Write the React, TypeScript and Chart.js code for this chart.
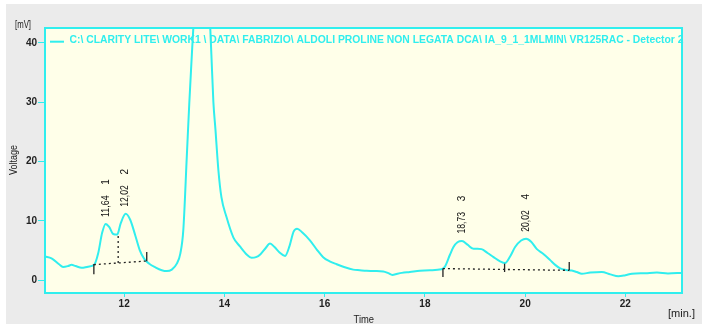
import React, { useEffect, useRef } from "react";
import { Chart, registerables } from "chart.js";
Chart.register(...registerables);

// Chromatogram trace (time in min, voltage in mV)
const times = [
  10.42, 10.55, 10.7, 10.78, 10.88, 10.95, 11.03, 11.15, 11.28, 11.4,
  11.48, 11.56, 11.63, 11.7, 11.78, 11.86, 11.93, 12.03, 12.12, 12.22,
  12.31, 12.4, 12.5, 12.62, 12.75, 12.85, 12.95, 13.05, 13.12, 13.18,
  13.25, 13.3, 13.35, 13.4, 13.55, 13.7, 13.74, 13.78, 13.82, 13.88,
  13.94, 14.04, 14.18, 14.31, 14.45, 14.54, 14.63, 14.72, 14.82, 14.91,
  15.0, 15.1, 15.21, 15.3, 15.38, 15.45, 15.55, 15.71, 15.85, 15.97,
  16.1, 16.24, 16.4, 16.57, 16.7, 16.84, 17.0, 17.17, 17.27, 17.35,
  17.45, 17.54, 17.7, 17.9, 18.1, 18.33, 18.4, 18.5, 18.57, 18.65,
  18.74, 18.85, 18.97, 19.05, 19.13, 19.25, 19.37, 19.5, 19.6, 19.7,
  19.8, 19.92, 20.02, 20.12, 20.23, 20.37, 20.5, 20.6, 20.7, 20.82,
  20.93, 21.03, 21.13, 21.3, 21.53, 21.7, 21.86, 22.0, 22.13, 22.4,
  22.63, 22.85, 23.13,
];
const voltages = [
  4.0, 3.7, 2.7, 2.25, 2.4, 2.6, 2.4, 2.1, 2.3, 2.6,
  4.5, 8.0, 9.5, 9.0, 7.8, 7.7, 9.6, 11.2, 10.2, 7.6,
  5.1, 3.6, 2.8, 2.2, 1.7, 1.55, 1.8, 2.8, 4.5, 8.5,
  21.0, 30.0, 38.0, 46.0, 80.0, 46.0, 38.0, 30.0, 25.5, 18.5,
  14.0, 10.7, 7.2, 5.7, 4.3, 3.8, 3.9, 4.4, 5.4, 6.2,
  5.6, 4.7, 4.1, 5.8, 8.2, 8.7, 8.1, 6.7, 5.1, 3.9,
  3.2, 2.7, 2.2, 1.8, 1.7, 1.6, 1.55, 1.5, 1.2, 0.9,
  1.1, 1.25, 1.4, 1.6, 1.7, 1.85, 2.3, 4.3, 5.6, 6.4,
  6.6, 6.0, 5.3, 5.3, 5.25, 4.6, 3.9, 3.2, 2.9, 4.0,
  5.6, 6.7, 7.0, 6.5, 5.3, 4.4, 3.4, 2.6, 2.0, 1.75,
  1.65, 1.4, 1.1, 1.3, 1.4, 1.0, 0.67, 0.85, 1.1, 1.2,
  1.3, 1.15, 1.25,
];

// Integration marks
const peakTimes = [11.64, 12.02, 18.73, 20.02];
const peakApex = [9.5, 11.2, 6.7, 7.0];
const peakLabels = ["11,64", "12,02", "18,73", "20,02"];
const peakNumbers = ["1", "2", "3", "4"];
const baseline1T = [11.395, 12.45];
const baseline1V = [2.64, 3.25];
const dropT = [11.88, 11.88];
const dropV = [2.92, 7.7];
const baseline2T = [18.36, 20.88];
const baseline2V = [1.97, 1.68];
const markerTimes = [11.395, 12.45, 18.36, 19.59, 20.88];
const markerTops = [2.75, 4.75, 1.97, 2.8, 3.1];
const markerBottoms = [1.0, 3.2, 0.56, 1.4, 1.68];

const xTicks = [12, 14, 16, 18, 20, 22];
const yTicks = [0, 10, 20, 30, 40];
const xMin = 10.42;
const xMax = 23.13;
const yMin = -2.14;
const yMax = 42.5;

const legendText =
  "C:\\ CLARITY LITE\\ WORK1 \\ DATA\\ FABRIZIO\\ ALDOLI PROLINE NON LEGATA DCA\\ IA_9_1_1MLMIN\\ VR125RAC - Detector 2";

const CYAN = "#30EEEE";
const FONT = "Liberation Sans";

function fitText(ctx: CanvasRenderingContext2D, text: string, x: number, y: number, target: number) {
  const w = ctx.measureText(text).width;
  ctx.save();
  ctx.translate(x, y);
  ctx.scale(target / w, 1);
  ctx.fillText(text, 0, 0);
  ctx.restore();
}

const zip = (a: number[], b: number[]) => a.map((x, i) => ({ x, y: b[i] }));

export default function App() {
  const ref = useRef<HTMLCanvasElement | null>(null);
  useEffect(() => {
    if (!ref.current) return;
    const decor = {
      id: "decor",
      beforeDraw(chart: any) {
        const { ctx, chartArea: a, width, height } = chart;
        ctx.save();
        ctx.fillStyle = "#ffffff";
        ctx.fillRect(0, 0, width, height);
        ctx.fillStyle = "#EBEBEB";
        ctx.fillRect(6, 4, width - 6, 320);
        ctx.fillStyle = "#FFFFE9";
        ctx.fillRect(a.left, a.top, a.right - a.left, a.bottom - a.top);
        ctx.restore();
      },
      afterDraw(chart: any) {
        const { ctx, chartArea: a } = chart;
        const xs = chart.scales.x;
        const ys = chart.scales.y;
        ctx.save();
        // plot border
        ctx.strokeStyle = CYAN;
        ctx.lineWidth = 2;
        ctx.strokeRect(a.left, a.top, a.right - a.left, a.bottom - a.top);
        // legend
        ctx.beginPath();
        ctx.moveTo(50, 41.7);
        ctx.lineTo(64, 41.7);
        ctx.stroke();
        ctx.fillStyle = CYAN;
        ctx.font = `bold 10px "${FONT}"`;
        ctx.textBaseline = "middle";
        ctx.textAlign = "left";
        fitText(ctx, legendText, 69.5, 39.8, 614);
        // peak labels
        ctx.fillStyle = "#111";
        ctx.font = `10px "${FONT}"`;
        peakTimes.forEach((t, i) => {
          const x = xs.getPixelForValue(t);
          const y = ys.getPixelForValue(peakApex[i]) - 7;
          ctx.save();
          ctx.translate(x, y);
          ctx.rotate(-Math.PI / 2);
          ctx.textAlign = "left";
          ctx.textBaseline = "middle";
          fitText(ctx, peakLabels[i], 0, 0.5, 21.5);
          ctx.textAlign = "center";
          ctx.fillText(peakNumbers[i], 35, 0.5);
          ctx.restore();
        });
        // axis titles
        ctx.fillStyle = "#222";
        ctx.font = `10px "${FONT}"`;
        ctx.textAlign = "left";
        ctx.textBaseline = "middle";
        fitText(ctx, "[mV]", 15, 25, 16);
        fitText(ctx, "Time", 353.5, 320, 20.5);
        fitText(ctx, "[min.]", 668, 314, 27);
        ctx.save();
        ctx.translate(14, 175);
        ctx.rotate(-Math.PI / 2);
        fitText(ctx, "Voltage", 0, 0, 30);
        ctx.restore();
        ctx.restore();
      },
    };

    const markerSets = markerTimes.map((t, i) => ({
      data: [
        { x: t, y: markerBottoms[i] },
        { x: t, y: markerTops[i] },
      ],
      borderColor: "#222",
      borderWidth: 1.3,
      pointRadius: 0,
      tension: 0,
    }));
    const dotted = (d: { x: number; y: number }[]) => ({
      data: d,
      borderColor: "#222",
      borderWidth: 1.3,
      borderDash: [2, 3],
      pointRadius: 0,
      tension: 0,
    });

    const chart = new Chart(ref.current, {
      type: "line",
      data: {
        datasets: [
          dotted(zip(baseline1T, baseline1V)),
          dotted(zip(dropT, dropV)),
          dotted(zip(baseline2T, baseline2V)),
          ...markerSets,
          {
            data: zip(times, voltages),
            borderColor: CYAN,
            borderWidth: 2,
            pointRadius: 0,
            cubicInterpolationMode: "monotone",
          },
        ] as any,
      },
      plugins: [decor],
      options: {
        animation: false,
        responsive: false,
        devicePixelRatio: 1,
        layout: { padding: { left: 0, right: 20, top: 28, bottom: 0 } },
        plugins: { legend: { display: false }, tooltip: { enabled: false } },
        scales: {
          x: {
            type: "linear",
            min: xMin,
            max: xMax,
            afterBuildTicks: (s: any) => {
              s.ticks = xTicks.map((v) => ({ value: v }));
            },
            afterFit: (s: any) => {
              s.height = 33;
            },
            grid: { drawOnChartArea: false, tickLength: 4, tickColor: CYAN, color: CYAN },
            border: { display: false },
            ticks: {
              padding: 1,
              color: "#222",
              font: { family: FONT, size: 10, weight: "bold" },
              maxRotation: 0,
              autoSkip: false,
            },
          },
          y: {
            type: "linear",
            min: yMin,
            max: yMax,
            afterBuildTicks: (s: any) => {
              s.ticks = yTicks.map((v) => ({ value: v }));
            },
            afterFit: (s: any) => {
              s.width = 45;
            },
            grid: { drawOnChartArea: false, tickLength: 7, tickColor: CYAN, color: CYAN },
            border: { display: false },
            ticks: {
              padding: 1,
              color: "#222",
              font: { family: FONT, size: 10, weight: "bold" },
              autoSkip: false,
            },
          },
        },
      } as any,
    });
    return () => chart.destroy();
  }, []);
  return (
    <div style={{ position: "fixed", left: 0, top: 0, width: 702, height: 326 }}>
      <canvas ref={ref} width={702} height={326} style={{ width: 702, height: 326 }} />
    </div>
  );
}
